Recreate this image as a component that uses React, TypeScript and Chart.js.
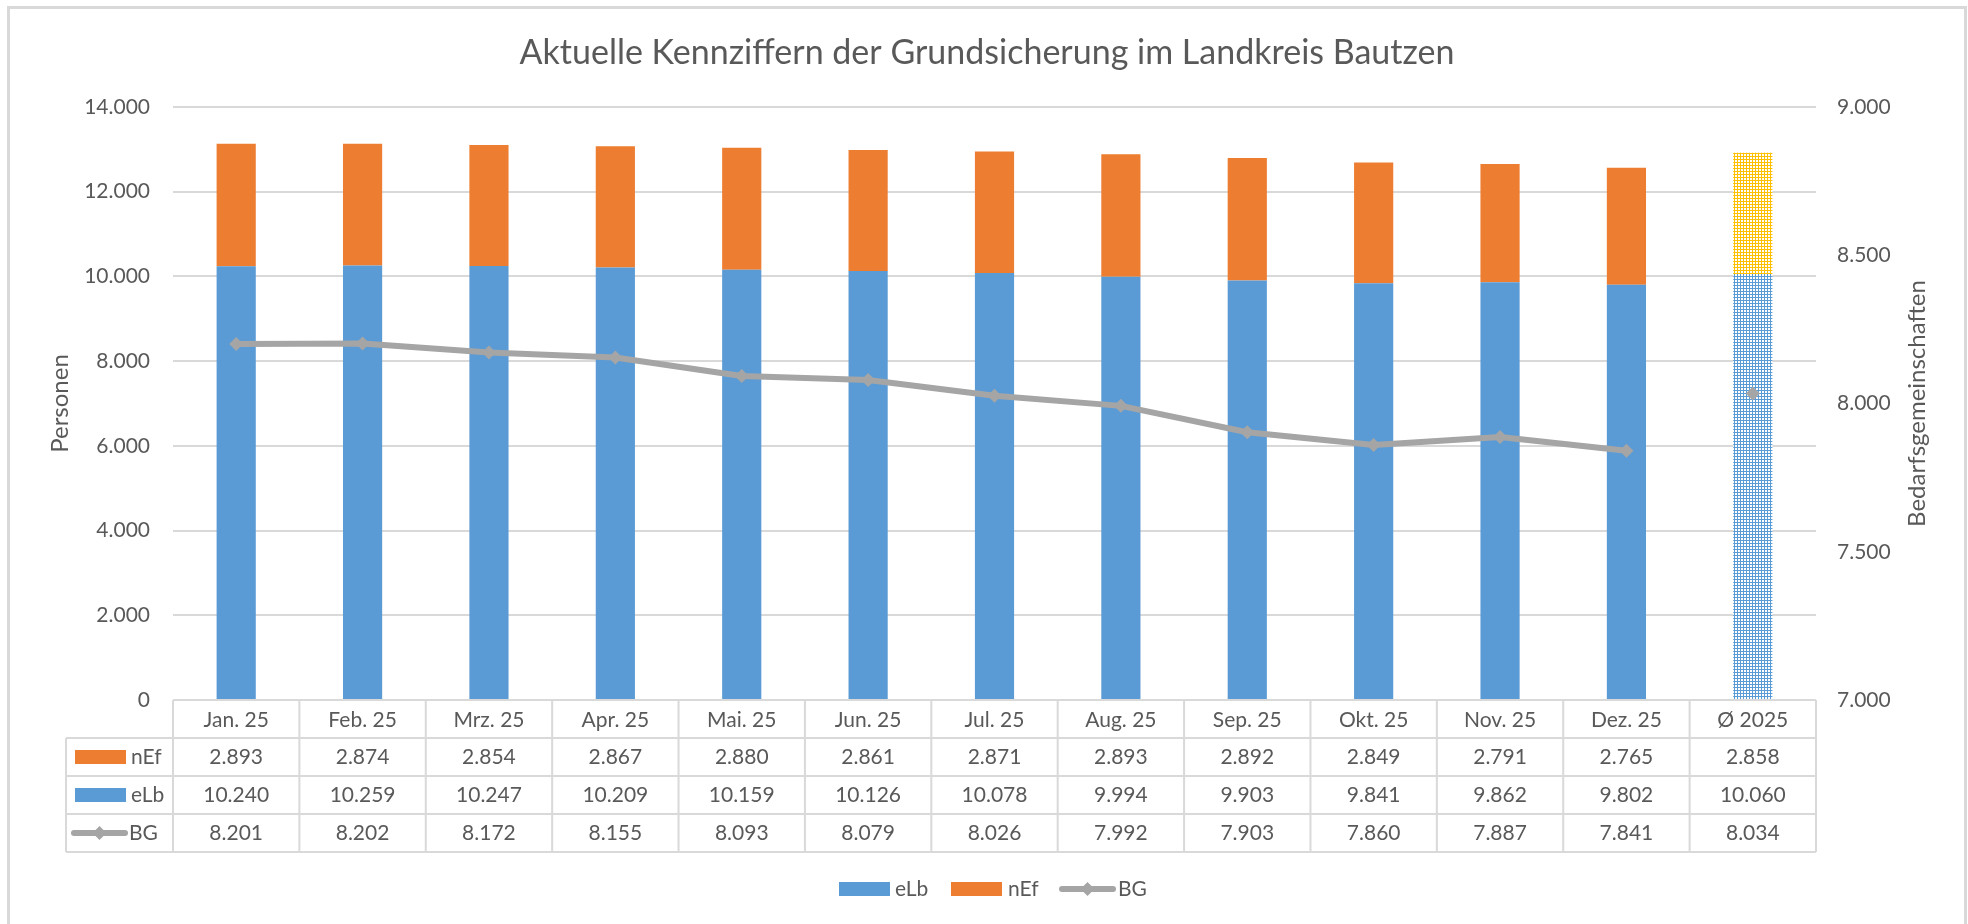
import React, { useEffect, useRef } from 'react';
import { Chart, registerables } from 'chart.js';

Chart.register(...registerables);

const categories = ['Jan. 25', 'Feb. 25', 'Mrz. 25', 'Apr. 25', 'Mai. 25', 'Jun. 25', 'Jul. 25', 'Aug. 25', 'Sep. 25', 'Okt. 25', 'Nov. 25', 'Dez. 25', 'Ø 2025'];
const nEfValues = [2893, 2874, 2854, 2867, 2880, 2861, 2871, 2893, 2892, 2849, 2791, 2765, 2858];
const eLbValues = [10240, 10259, 10247, 10209, 10159, 10126, 10078, 9994, 9903, 9841, 9862, 9802, 10060];
const bgValues = [8201, 8202, 8172, 8155, 8093, 8079, 8026, 7992, 7903, 7860, 7887, 7841, 8034];

const titleText = 'Aktuelle Kennziffern der Grundsicherung im Landkreis Bautzen';
const leftAxisTitle = 'Personen';
const rightAxisTitle = 'Bedarfsgemeinschaften';

const BLUE = '#5B9BD5';
const ORANGE = '#ED7D31';
const GRAY = '#A5A5A5';
const YELLOW = '#FFC000';
const TEXT = '#595959';
const LINE = '#D9D9D9';
const FONT = 'Lato';

function fmt(v: number): string {
  const s = Math.round(v).toString();
  return s.replace(/\B(?=(\d{3})+(?!\d))/g, '.');
}

function makePattern(color: string): CanvasPattern | string {
  const c = document.createElement('canvas');
  c.width = 3;
  c.height = 3;
  const g = c.getContext('2d');
  if (!g) return color;
  g.fillStyle = color;
  g.fillRect(0, 0, 3, 3);
  g.fillStyle = '#ffffff';
  g.fillRect(1, 1, 2, 2);
  const p = g.createPattern(c, 'repeat');
  return p || color;
}

const tablePlugin = {
  id: 'excelTable',
  beforeDraw(chart: any) {
    const ctx = chart.ctx;
    ctx.save();
    ctx.fillStyle = '#ffffff';
    ctx.fillRect(0, 0, chart.width, chart.height);
    ctx.strokeStyle = LINE;
    ctx.lineWidth = 3;
    ctx.strokeRect(8.5, 7.5, 1957, 940);
    ctx.restore();
  },
  afterDraw(chart: any) {
    const ctx = chart.ctx;
    const area = chart.chartArea;
    const xs = chart.scales.x;
    const n = categories.length;
    const colW = (area.right - area.left) / n;
    const rowH = 38;
    const top = area.bottom;
    const keyLeft = 66;
    ctx.save();

    // title
    ctx.fillStyle = TEXT;
    ctx.font = `34px ${FONT}`;
    ctx.textAlign = 'center';
    ctx.textBaseline = 'middle';
    ctx.fillText(titleText, chart.width / 2 + 3, 53);

    // right axis title (reads bottom to top)
    ctx.save();
    ctx.translate(1917, (area.top + area.bottom) / 2);
    ctx.rotate(-Math.PI / 2);
    ctx.font = `24px ${FONT}`;
    ctx.fillText(rightAxisTitle, 0, 0);
    ctx.restore();

    // table grid
    ctx.strokeStyle = LINE;
    ctx.lineWidth = 2;
    ctx.beginPath();
    ctx.moveTo(area.left, top);
    ctx.lineTo(area.right, top);
    for (let r = 1; r <= 4; r++) {
      const y = top + r * rowH;
      ctx.moveTo(keyLeft, y);
      ctx.lineTo(area.right, y);
    }
    ctx.moveTo(keyLeft, top + rowH);
    ctx.lineTo(keyLeft, top + 4 * rowH);
    for (let i = 0; i <= n; i++) {
      const x = area.left + i * colW;
      ctx.moveTo(x, top);
      ctx.lineTo(x, top + 4 * rowH);
    }
    ctx.stroke();

    // values
    const rows = [nEfValues, eLbValues, bgValues];
    ctx.fillStyle = TEXT;
    ctx.font = `21px ${FONT}`;
    ctx.textAlign = 'center';
    ctx.textBaseline = 'middle';
    rows.forEach((vals, r) => {
      const y = top + (r + 1.5) * rowH;
      vals.forEach((v, i) => {
        ctx.fillText(fmt(v), xs.getPixelForValue(i), y);
      });
    });

    // keys
    const drawKey = (kind: string, label: string, y: number, bx: number, tx: number) => {
      if (kind === 'line') {
        ctx.strokeStyle = GRAY;
        ctx.lineWidth = 6;
        ctx.lineCap = 'round';
        ctx.beginPath();
        ctx.moveTo(bx + 3, y);
        ctx.lineTo(bx + 54, y);
        ctx.stroke();
        ctx.fillStyle = GRAY;
        ctx.beginPath();
        const cx = bx + 28.5;
        ctx.moveTo(cx, y - 7);
        ctx.lineTo(cx + 7, y);
        ctx.lineTo(cx, y + 7);
        ctx.lineTo(cx - 7, y);
        ctx.closePath();
        ctx.fill();
      } else {
        ctx.fillStyle = kind;
        ctx.fillRect(bx, y - 7, 51, 14);
      }
      ctx.fillStyle = TEXT;
      ctx.textAlign = 'left';
      ctx.fillText(label, tx, y);
    };
    drawKey(ORANGE, 'nEf', top + 1.5 * rowH, 75, 131);
    drawKey(BLUE, 'eLb', top + 2.5 * rowH, 75, 131);
    drawKey('line', 'BG', top + 3.5 * rowH, 71, 129);

    // bottom legend
    const ly = 889;
    drawKey(BLUE, 'eLb', ly, 839, 895);
    drawKey(ORANGE, 'nEf', ly, 951, 1008);
    drawKey('line', 'BG', ly, 1059, 1118);

    ctx.restore();
  },
};

export default function App() {
  const ref = useRef<HTMLCanvasElement | null>(null);

  useEffect(() => {
    document.body.style.margin = '0';
    const canvas = ref.current;
    if (!canvas) return;
    const n = categories.length;
    const blueColors: any[] = categories.map((_, i) => (i === n - 1 ? makePattern(BLUE) : BLUE));
    const orangeColors: any[] = categories.map((_, i) => (i === n - 1 ? makePattern(YELLOW) : ORANGE));

    const chart = new Chart(canvas, {
      type: 'bar',
      data: {
        labels: categories,
        datasets: [
          {
            type: 'line',
            label: 'BG',
            data: bgValues,
            yAxisID: 'y1',
            borderColor: GRAY,
            backgroundColor: GRAY,
            borderWidth: 6,
            borderJoinStyle: 'round',
            borderCapStyle: 'round',
            pointStyle: 'rectRot',
            pointRadius: 7,
            pointBorderWidth: 0,
            pointBackgroundColor: GRAY,
            tension: 0,
            order: 0,
            segment: {
              borderColor: (c: any) => (c.p1DataIndex === n - 1 ? 'rgba(0,0,0,0)' : GRAY),
            },
          } as any,
          {
            type: 'bar',
            label: 'eLb',
            data: eLbValues,
            backgroundColor: blueColors,
            yAxisID: 'y',
            stack: 's',
            order: 1,
            barPercentage: 0.31,
            categoryPercentage: 1,
          },
          {
            type: 'bar',
            label: 'nEf',
            data: nEfValues,
            backgroundColor: orangeColors,
            yAxisID: 'y',
            stack: 's',
            order: 1,
            barPercentage: 0.31,
            categoryPercentage: 1,
          },
        ],
      },
      options: {
        responsive: true,
        maintainAspectRatio: false,
        animation: false,
        events: [],
        layout: { padding: { top: 107, left: 0, right: 0, bottom: 0 } },
        plugins: {
          legend: { display: false },
          title: { display: false },
          tooltip: { enabled: false },
        },
        scales: {
          x: {
            stacked: true,
            offset: true,
            grid: { display: false, drawTicks: false },
            border: { display: false },
            ticks: {
              color: TEXT,
              font: { family: FONT, size: 21 },
              padding: 8,
              maxRotation: 0,
              autoSkip: false,
            },
            afterFit: (s: any) => {
              s.height = 224;
            },
          },
          y: {
            position: 'left',
            stacked: true,
            min: 0,
            max: 14000,
            ticks: {
              stepSize: 2000,
              color: TEXT,
              font: { family: FONT, size: 21 },
              padding: 23,
              callback: (v: any) => fmt(Number(v)),
            },
            grid: { color: LINE, lineWidth: 2, drawTicks: false },
            border: { display: false },
            title: {
              display: true,
              text: leftAxisTitle,
              color: TEXT,
              font: { family: FONT, size: 24 },
              padding: { top: 46, bottom: 0 },
            },
            afterFit: (s: any) => {
              s.width = 173;
            },
          },
          y1: {
            position: 'right',
            min: 7000,
            max: 9000,
            ticks: {
              stepSize: 500,
              color: TEXT,
              font: { family: FONT, size: 21 },
              padding: 21,
              callback: (v: any) => fmt(Number(v)),
            },
            grid: { display: false, drawTicks: false },
            border: { display: false },
            afterFit: (s: any) => {
              s.width = 152;
            },
          },
        },
      },
      plugins: [tablePlugin],
    });

    return () => {
      chart.destroy();
    };
  }, []);

  return (
    <div style={{ position: 'fixed', left: 0, top: 0, width: 1968, height: 924, background: '#fff' }}>
      <canvas ref={ref} />
    </div>
  );
}
